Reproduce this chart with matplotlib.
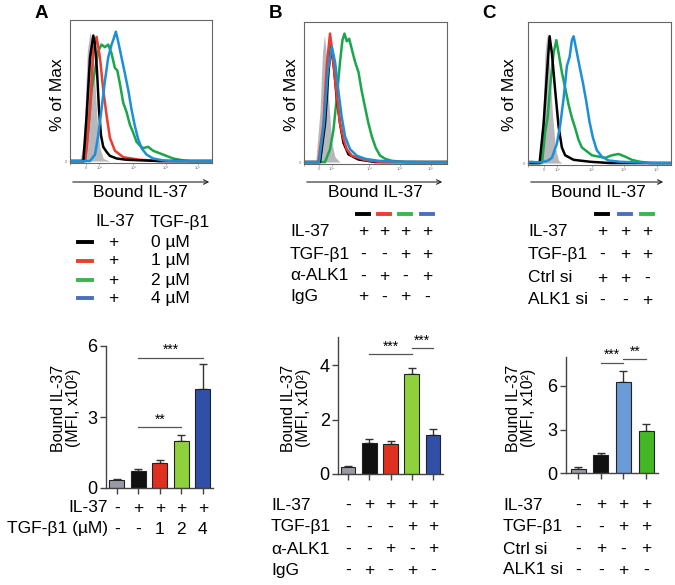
import numpy as np
import matplotlib
matplotlib.use("Agg")
import matplotlib.pyplot as plt
from matplotlib import transforms
from matplotlib.lines import Line2D
from matplotlib.patches import FancyArrowPatch

plt.rcParams['font.family'] = ['Liberation Sans', 'DejaVu Sans']

# ---- histogram data (channel 0-1000, % of max) ----
hist_a_gray = [(0, 0), (70, 0), (95, 15), (105, 40), (122, 85), (141, 100), (159, 88), (176, 60),
               (192, 30), (211, 10), (234, 2), (281, 0), (1000, 0)]
hist_a_black = [(0, 0), (94, 0), (117, 35), (141, 80), (164, 97), (176, 90), (190, 70), (204, 40),
                (218, 20), (234, 11), (258, 7), (281, 4), (328, 2), (398, 1), (562, 0.3), (630, 0), (1000, 0)]
hist_a_red = [(0, 0), (105, 0), (117, 10), (141, 40), (164, 85), (187, 96), (211, 80), (234, 55),
              (258, 35), (281, 18), (316, 8), (375, 3), (492, 1), (632, 0), (1000, 0)]
hist_a_green = [(0, 0), (105, 0), (129, 25), (152, 55), (176, 70), (199, 85), (222, 90), (246, 88),
                (269, 90), (293, 83), (316, 72), (333, 70), (351, 60), (375, 45), (398, 38), (422, 28),
                (445, 22), (468, 15), (492, 12), (515, 10), (550, 11), (585, 8), (632, 6), (679, 4),
                (726, 2), (796, 0.5), (843, 0), (1000, 0)]
hist_a_blue = [(0, 0), (141, 0), (176, 5), (199, 20), (222, 40), (246, 62), (269, 80), (293, 90),
               (309, 95), (323, 100), (340, 92), (363, 80), (386, 68), (410, 55), (433, 40), (457, 27),
               (480, 17), (504, 10), (539, 5), (585, 2), (656, 0.5), (726, 0), (1000, 0)]

hist_b_gray = [(0, 0), (82, 0), (112, 40), (129, 85), (143, 99), (159, 80), (175, 45), (194, 15),
               (217, 4), (252, 0), (1000, 0)]
hist_b_red = [(0, 0), (100, 0), (136, 30), (159, 75), (182, 100), (199, 85), (217, 65), (236, 45),
              (252, 30), (276, 18), (299, 10), (334, 5), (428, 1.5), (544, 0), (1000, 0)]
hist_b_black = [(0, 0), (112, 0), (147, 30), (171, 70), (189, 90), (208, 75), (229, 50), (252, 30),
                (276, 15), (311, 6), (381, 2), (498, 0), (1000, 0)]
hist_b_blue = [(0, 0), (105, 0), (140, 30), (166, 70), (194, 90), (217, 78), (241, 55), (264, 35),
               (287, 20), (322, 10), (369, 5), (428, 2.5), (521, 1), (661, 0.3), (848, 0), (1000, 0)]
hist_b_green = [(0, 0), (147, 0), (182, 10), (206, 25), (229, 50), (252, 78), (269, 95), (283, 100),
                (299, 94), (316, 96), (334, 88), (357, 78), (381, 70), (404, 55), (428, 42), (451, 30),
                (474, 20), (502, 11), (532, 5), (568, 2.5), (614, 1), (708, 0), (1000, 0)]

hist_c_gray = [(0, 0), (74, 0), (105, 40), (119, 85), (133, 100), (151, 75), (170, 40), (191, 12),
               (214, 2), (237, 0), (1000, 0)]
hist_c_black = [(0, 0), (81, 0), (109, 30), (133, 70), (151, 98), (167, 85), (191, 55), (214, 28),
                (237, 12), (260, 6), (319, 2.5), (435, 1), (574, 0), (1000, 0)]
hist_c_green = [(0, 0), (98, 0), (121, 25), (137, 35), (156, 60), (179, 85), (198, 95), (214, 85),
                (237, 70), (260, 58), (284, 45), (307, 35), (330, 27), (353, 18), (377, 12), (412, 9),
                (447, 6), (493, 5), (540, 4), (586, 6), (633, 7), (679, 5), (726, 2.5), (784, 1),
                (853, 0), (1000, 0)]
hist_c_blue = [(0, 0), (16, 1), (74, 0.5), (133, 1.5), (167, 4), (202, 15), (226, 30), (249, 50),
               (272, 75), (291, 82), (307, 95), (319, 98), (337, 88), (360, 75), (384, 62), (407, 48),
               (430, 32), (453, 20), (481, 10), (516, 5), (563, 2), (644, 1), (760, 0.5), (900, 0),
               (1000, 0)]

hist_ticks_a = [0, 112, 206, 445, 674, 902]
hist_ticks_b = [0, 107, 194, 456, 673, 890]
hist_tick_labels = ['', '0', '10²', '10³', '10⁴', '10⁵']

# ---- bar data ----
bar_a_vals = [0.33, 0.73, 1.04, 2.0, 4.17]
bar_a_err = [0.03, 0.06, 0.14, 0.22, 1.08]
bar_b_vals = [0.27, 1.13, 1.09, 3.66, 1.43]
bar_b_err = [0.01, 0.15, 0.13, 0.22, 0.23]
bar_c_vals = [0.3, 1.21, 6.3, 2.9]
bar_c_err = [0.12, 0.16, 0.75, 0.46]

sig_a = [(1, 4, 5.5, '***'), (1, 3, 2.57, '**')]
sig_b = [(1, 3, 4.39, '***'), (3, 4, 4.61, '***')]
sig_c = [(1, 2, 7.6, '***'), (2, 3, 7.85, '**')]

table_a = [('IL-37', ['-', '+', '+', '+', '+']),
           ('TGF-β1 (µM)', ['-', '-', '1', '2', '4'])]
table_b = [('IL-37', ['-', '+', '+', '+', '+']),
           ('TGF-β1', ['-', '-', '-', '+', '+']),
           ('α-ALK1', ['-', '-', '+', '-', '+']),
           ('IgG', ['-', '+', '-', '+', '-'])]
table_c = [('IL-37', ['-', '+', '+', '+']),
           ('TGF-β1', ['-', '-', '+', '+']),
           ('Ctrl si', ['-', '+', '-', '+']),
           ('ALK1 si', ['-', '-', '+', '-'])]

legend_a_conc = ['0 µM', '1 µM', '2 µM', '4 µM']
legend_b = [('IL-37', ['+', '+', '+', '+']),
            ('TGF-β1', ['-', '-', '+', '+']),
            ('α-ALK1', ['-', '+', '-', '+']),
            ('IgG', ['+', '-', '+', '-'])]
legend_c = [('IL-37', ['+', '+', '+']),
            ('TGF-β1', ['-', '+', '+']),
            ('Ctrl si', ['+', '+', '-']),
            ('ALK1 si', ['-', '-', '+'])]

# colours
GRAY_FILL = '#b8b8bc'
H_BLACK, H_RED, H_GREEN, H_BLUE = '#000000', '#ee3b2f', '#1aa64a', '#1b8fd8'
K_BLACK, K_RED, K_GREEN, K_BLUE = '#000000', '#e8402f', '#3cb54a', '#4a6fc0'
bar_a_colors = ['#9a9aa4', '#111111', '#e03020', '#8fd13a', '#2f4fa8']
bar_b_colors = ['#9a9aa4', '#111111', '#e03020', '#8fd13a', '#3050a8']
bar_c_colors = ['#9a9aa4', '#111111', '#6a9ad8', '#44b824']

W, H = 675, 585
fig = plt.figure(figsize=(W / 100, H / 100), dpi=100)
FS = 12.5


def rect(l, t, r, b):
    return [l / W, 1 - b / H, (r - l) / W, (b - t) / H]


def fx(x):
    return x / W


def fy(y):
    return 1 - y / H


def histogram(box, gray, curves, ticks, xc_label, x_ylab, arrow):
    ax = fig.add_axes(rect(*box))
    gx, gy = zip(*gray)
    ax.fill_between(gx, gy, 0, color=GRAY_FILL, lw=0)
    for pts, col in curves:
        x, y = zip(*pts)
        ax.plot(x, y, color=col, lw=1.8, solid_joinstyle='round')
    ax.set_xlim(0, 1000)
    ax.set_ylim(-1.5, 109)
    for s in ax.spines.values():
        s.set_color('#666666')
        s.set_linewidth(0.8)
    ax.set_xticks(ticks)
    ax.set_xticklabels(hist_tick_labels, fontsize=3, color='#777777')
    ax.tick_params(axis='x', length=1.5, width=0.5, color='#888888', pad=1)
    ax.set_yticks([0])
    ax.set_yticklabels(['0'], fontsize=3, color='#777777')
    ax.tick_params(axis='y', length=1, width=0.5, color='#888888', pad=1)
    fig.text(fx(x_ylab), fy(95), '% of Max', rotation=90, ha='center', va='center', fontsize=FS)
    fig.add_artist(FancyArrowPatch(
        (fx(arrow[0]), fy(182)), (fx(arrow[1]), fy(182)), transform=fig.transFigure,
        arrowstyle='->', mutation_scale=8, lw=0.8, color='#222222'))
    fig.text(fx(xc_label), fy(193), 'Bound IL-37', ha='center', va='center', fontsize=FS)
    return ax


histogram((70, 20, 212, 163), hist_a_gray,
          [(hist_a_green, H_GREEN), (hist_a_red, H_RED), (hist_a_black, H_BLACK), (hist_a_blue, H_BLUE)],
          hist_ticks_a, 140, 58, (70, 212))
histogram((304, 22, 447, 164), hist_b_gray,
          [(hist_b_green, H_GREEN), (hist_b_black, H_BLACK), (hist_b_red, H_RED), (hist_b_blue, H_BLUE)],
          hist_ticks_b, 375, 292, (304, 445))
histogram((528, 22, 671, 165), hist_c_gray,
          [(hist_c_green, H_GREEN), (hist_c_black, H_BLACK), (hist_c_blue, H_BLUE)],
          hist_ticks_a, 598, 510, (528, 666))

# panel letters
for x, lab in [(41, 'A'), (275, 'B'), (489, 'C')]:
    fig.text(fx(x), fy(13), lab, ha='center', va='center', fontsize=13.5, fontweight='bold')


def key(xc, y, col, half=7, lw=2.8):
    fig.add_artist(Line2D([fx(xc - half), fx(xc + half)], [fy(y), fy(y)],
                          transform=fig.transFigure, color=col, lw=lw))


# legend A
fig.text(fx(115), fy(222), 'IL-37', ha='center', va='center', fontsize=FS)
fig.text(fx(150), fy(222), 'TGF-β1', ha='left', va='center', fontsize=FS)
for i, (col, conc) in enumerate(zip([K_BLACK, K_RED, K_GREEN, K_BLUE], legend_a_conc)):
    y = [242, 261, 280, 298][i]
    key(85, y, col)
    fig.text(fx(113), fy(y), '+', ha='center', va='center', fontsize=FS)
    fig.text(fx(151), fy(y), conc, ha='left', va='center', fontsize=FS)

# legend B
for xc, col in zip([363, 384, 405, 427], [K_BLACK, K_RED, K_GREEN, K_BLUE]):
    key(xc, 214, col, half=6)
for (lab, syms), y in zip(legend_b, [232, 254, 276, 297]):
    fig.text(fx(290), fy(y), lab, ha='left', va='center', fontsize=FS)
    for xc, s in zip([363, 384, 405, 427], syms):
        fig.text(fx(xc), fy(y), s, ha='center', va='center', fontsize=FS)

# legend C
for xc, col in zip([602, 625, 647], [K_BLACK, K_BLUE, K_GREEN]):
    key(xc, 214, col, half=6)
for (lab, syms), y in zip(legend_c, [232, 254, 278, 300]):
    fig.text(fx(528), fy(y), lab, ha='left', va='center', fontsize=FS)
    for xc, s in zip([602, 625, 647], syms):
        fig.text(fx(xc), fy(y), s, ha='center', va='center', fontsize=FS)


def bars(box, xlim, ylim, yticks, vals, errs, colors, sigs, width, ylab_x, table, row_ys, label_x,
         label_ha='left'):
    ax = fig.add_axes(rect(*box))
    x = np.arange(len(vals))
    ax.bar(x, vals, width=width, color=colors, edgecolor='#222222', linewidth=0.8, zorder=2)
    ax.errorbar(x, vals, yerr=[np.zeros(len(vals)), errs], fmt='none', ecolor='#333333',
                elinewidth=1, capsize=3, capthick=1, zorder=1)
    for a, b, h, txt in sigs:
        ax.plot([a, b], [h, h], color='#555555', lw=0.9, clip_on=False)
        ax.text((a + b) / 2, h + (ylim[1] - ylim[0]) * 0.005, txt, ha='center', va='bottom',
                fontsize=10, clip_on=False)
    ax.set_xlim(*xlim)
    ax.set_ylim(*ylim)
    ax.set_yticks(yticks)
    ax.set_xticks(x)
    ax.set_xticklabels([])
    ax.spines['top'].set_visible(False)
    ax.spines['right'].set_visible(False)
    for s in ['left', 'bottom']:
        ax.spines[s].set_color('#444444')
        ax.spines[s].set_linewidth(1)
    ax.tick_params(axis='y', labelsize=13, length=4, width=1, color='#444444', pad=2)
    ax.tick_params(axis='x', length=4, width=1, color='#444444')
    fig.text(fx(ylab_x), fy(408), 'Bound IL-37\n(MFI, x10²)', rotation=90, ha='center',
             va='center', fontsize=11.5, linespacing=1.0, multialignment='center')
    tr = transforms.blended_transform_factory(ax.transData, fig.transFigure)
    for (lab, syms), y in zip(table, row_ys):
        fig.text(fx(label_x), fy(y), lab, ha=label_ha, va='center', fontsize=FS)
        for xi, s in zip(x, syms):
            ax.text(xi, fy(y), s, transform=tr, ha='center', va='center', fontsize=FS)
    return ax


bars((106, 346, 213, 488), (-0.51, 4.47), (0, 6), [0, 3, 6], bar_a_vals, bar_a_err, bar_a_colors,
     sig_a, 0.7, 66, table_a, [508, 529], 108, label_ha='right')
bars((338, 337, 443, 474), (-0.47, 4.47), (0, 5.03), [0, 2, 4], bar_b_vals, bar_b_err, bar_b_colors,
     sig_b, 0.7, 296, table_b, [505, 527, 549, 570], 271)
bars((566, 357, 658, 473), (-0.53, 3.52), (0, 8), [0, 3, 6], bar_c_vals, bar_c_err, bar_c_colors,
     sig_c, 0.66, 521, table_c, [505, 527, 549, 570], 503)

plt.savefig('out.png', dpi=100)
